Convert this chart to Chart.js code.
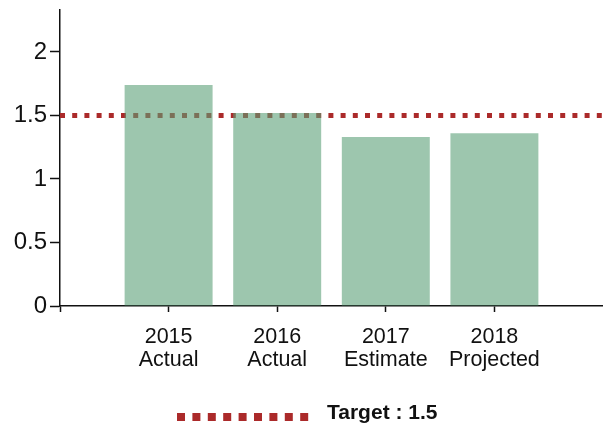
<!DOCTYPE html>
<html>
<head>
<meta charset="utf-8">
<script src="https://cdn.jsdelivr.net/npm/chart.js@4"></script>
<style>
  html, body { margin: 0; padding: 0; background: #fff; overflow: hidden; }
  #wrap { width: 603px; height: 425px; position: relative; }
</style>
</head>
<body>
<div id="wrap"><canvas id="c"></canvas></div>
<script>
const categories = ['', ['2015', 'Actual'], ['2016', 'Actual'], ['2017', 'Estimate'], ['2018', 'Projected'], ''];
const values = [null, 1.74, 1.52, 1.33, 1.36, null];
const targetValue = 1.5;
const targetLine = categories.map(() => targetValue);
const targetLabel = 'Target : 1.5';
const yTicks = [0, 0.5, 1, 1.5, 2];

const FONT = '"Liberation Sans", Arial, sans-serif';
const RED = '#ab2a2a';

const legendPlugin = {
  id: 'customLegend',
  afterDraw(chart) {
    const ctx = chart.ctx;
    ctx.save();
    ctx.strokeStyle = RED;
    ctx.lineWidth = 8;
    ctx.setLineDash([8, 7.4]);
    ctx.lineCap = 'butt';
    ctx.beginPath();
    ctx.moveTo(177, 417);
    ctx.lineTo(309, 417);
    ctx.stroke();
    ctx.setLineDash([]);
    ctx.fillStyle = '#111';
    ctx.font = 'bold 21px ' + FONT;
    ctx.textBaseline = 'middle';
    ctx.textAlign = 'left';
    ctx.fillText(targetLabel, 327, 413);
    ctx.restore();
  }
};

new Chart(document.getElementById('c'), {
  data: {
    labels: categories,
    datasets: [
      {
        type: 'bar',
        label: 'Value',
        data: values,
        backgroundColor: 'rgba(92,160,120,0.6)',
        borderWidth: 0,
        categoryPercentage: 0.81,
        barPercentage: 1,
        order: 1
      },
      {
        type: 'line',
        label: targetLabel,
        data: targetLine,
        borderColor: RED,
        borderWidth: 5,
        borderDash: [5, 7.2],
        borderCapStyle: 'butt',
        pointRadius: 0,
        fill: false,
        order: 2
      }
    ]
  },
  options: {
    responsive: true,
    maintainAspectRatio: false,
    animation: false,
    layout: { padding: { top: 10, right: 0, bottom: 0, left: 0 } },
    plugins: {
      legend: { display: false },
      tooltip: { enabled: false }
    },
    scales: {
      x: {
        type: 'category',
        offset: false,
        afterFit(scale) {
          scale.height = 119;
          scale.paddingLeft = 0; scale.paddingRight = 0;
          scale.paddingTop = 0; scale.paddingBottom = 0;
        },
        grid: {
          display: true, drawOnChartArea: false, offset: false, tickLength: 6, tickWidth: 1.5,
          tickColor: c => (c.index === categories.length - 1 ? 'rgba(0,0,0,0)' : '#111')
        },
        border: { display: true, color: '#111', width: 1.5 },
        ticks: {
          autoSkip: false,
          maxRotation: 0,
          padding: 13,
          color: '#111',
          font: { family: FONT, size: 21.5, lineHeight: 1.08 }
        }
      },
      y: {
        min: 0,
        max: 2.33,
        afterFit(scale) {
          scale.width = 60;
          scale.paddingTop = 0; scale.paddingBottom = 0;
          scale.paddingLeft = 0; scale.paddingRight = 0;
        },
        afterBuildTicks(scale) { scale.ticks = yTicks.map(v => ({ value: v })); },
        grid: { display: true, drawOnChartArea: false, tickLength: 10, tickColor: '#111', tickWidth: 1.5 },
        border: { display: true, color: '#111', width: 1.5 },
        ticks: {
          padding: 3,
          color: '#111',
          font: { family: FONT, size: 24 },
          callback: v => String(v)
        }
      }
    }
  },
  plugins: [legendPlugin]
});
</script>
</body>
</html>
